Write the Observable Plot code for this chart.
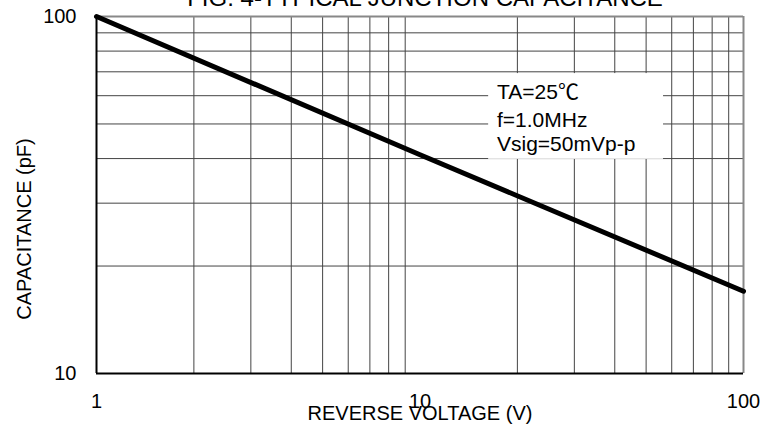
<!DOCTYPE html>
<html><head><meta charset="utf-8">
<script src="https://cdn.jsdelivr.net/npm/d3@7"></script>
<script src="https://cdn.jsdelivr.net/npm/@observablehq/plot@0.6"></script>
<style>
body{margin:0;background:#fff;}
svg{font-family:"Liberation Sans",Arial,sans-serif;}
</style>
</head><body><div id="chart"></div>
<script>
const title = "FIG. 4-TYPICAL JUNCTION CAPACITANCE";
const xLabel = "REVERSE VOLTAGE (V)";
const yLabel = "CAPACITANCE (pF)";
const voltage = [1, 10, 100];
const capacitance = [100, 41, 17];
const xTicks = [1, 10, 100];
const yTicks = [10, 100];
const xGrid = [2, 3, 4, 5, 6, 7, 8, 9, 20, 30, 40, 50, 60, 70, 80, 90];
const yGrid = [20, 30, 40, 50, 60, 70, 80, 90];
const notes = ["TA=25℃", "f=1.0MHz", "Vsig=50mVp-p"];
const noteY = [61.4, 51.3, 43.9];
const noteX = 17.3;
const boxX = [16.3, 56.6];
const boxY = [39.8, 69.2];

const line = voltage.map((v, i) => ({v, c: capacitance[i]}));
const noteData = notes.map((t, i) => ({t, y: noteY[i]}));

const chart = Plot.plot({
  width: 761,
  height: 433,
  marginLeft: 96,
  marginRight: 18,
  marginTop: 16,
  marginBottom: 60,
  style: {fontFamily: '"Liberation Sans", Arial, sans-serif', color: "#000", background: "#fff", overflow: "visible"},
  x: {type: "log", domain: [1, 100]},
  y: {type: "log", domain: [10, 100]},
  marks: [
    Plot.ruleX(xGrid, {stroke: "#444", strokeWidth: 1}),
    Plot.ruleY(yGrid, {stroke: "#444", strokeWidth: 1}),
    Plot.rect([0], {x1: () => boxX[0], x2: () => boxX[1], y1: () => boxY[0], y2: () => boxY[1], fill: "#fff"}),
    Plot.ruleY([100], {stroke: "#888", strokeWidth: 2}),
    Plot.ruleX([100], {stroke: "#888", strokeWidth: 2}),
    Plot.ruleY([10], {stroke: "#000", strokeWidth: 2}),
    Plot.ruleX([1], {stroke: "#000", strokeWidth: 2}),
    Plot.line(line, {x: "v", y: "c", stroke: "#000", strokeWidth: 5}),
    Plot.text(noteData, {x: () => noteX, y: "y", text: "t", textAnchor: "start", fontSize: 21, fill: "#000",
      fontFamily: '"Liberation Sans", "Noto Sans CJK SC", sans-serif'}),
    Plot.axisX({ticks: xTicks, tickFormat: d => String(d), tickSize: 0, tickPadding: 20, fontSize: 20, label: null}),
    Plot.axisY({ticks: yTicks, tickFormat: d => String(d), tickSize: 0, tickPadding: 20, fontSize: 20, label: null}),
    Plot.text([xLabel], {frameAnchor: "bottom", dy: 40, lineAnchor: "middle", textAnchor: "middle", fontSize: 20, text: d => d}),
    Plot.text([yLabel], {frameAnchor: "left", dx: -72, dy: 34, rotate: -90, lineAnchor: "middle", textAnchor: "middle", fontSize: 20, text: d => d}),
    Plot.text([title], {frameAnchor: "top", dx: 5, dy: -11, lineAnchor: "bottom", textAnchor: "middle", fontSize: 24, text: d => d})
  ]
});
document.getElementById("chart").append(chart);
</script>
</body></html>
